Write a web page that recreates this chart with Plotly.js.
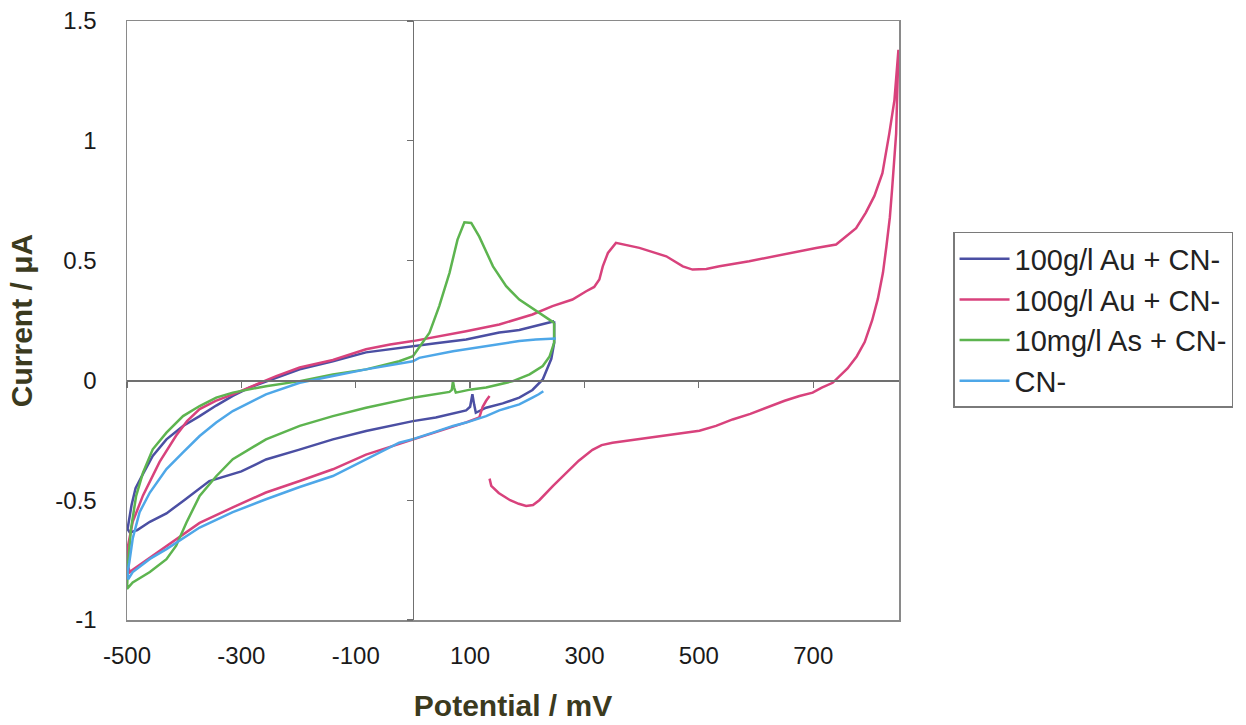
<!DOCTYPE html>
<html>
<head>
<meta charset="utf-8">
<script src="https://cdn.plot.ly/plotly-3.0.1.min.js"></script>
<style>html,body{margin:0;padding:0;background:#fff;}#chart{width:1246px;height:725px;}</style>
</head>
<body>
<div id="chart"></div>
<script>
// Series names (legend)
const seriesNames = ["100g/l Au + CN-", "100g/l Au + CN-", "10mg/l As + CN-", "CN-"];

// Series 1: 100g/l Au + CN- (dark blue)
const auBlueX = [247, 215, 186, 151, 93, 40, 0, -40, -82, -140, -198, -257, -286, -315, -344, -373, -402, -431, -455, -472, -485, -492, -497, -499, -495, -482, -460, -431, -400, -356, -300, -257, -200, -140, -82, -40, 0, 40, 64, 93, 100, 104, 107, 110, 128, 157, 186, 209, 227, 242, 247, 247];
const auBlueY = [0.247, 0.226, 0.21, 0.2, 0.171, 0.155, 0.143, 0.13, 0.117, 0.08, 0.046, -0.005, -0.03, -0.065, -0.105, -0.149, -0.19, -0.246, -0.315, -0.39, -0.45, -0.52, -0.58, -0.62, -0.635, -0.625, -0.59, -0.555, -0.5, -0.42, -0.38, -0.33, -0.29, -0.246, -0.211, -0.19, -0.17, -0.155, -0.142, -0.125, -0.11, -0.058, -0.1, -0.135, -0.114, -0.096, -0.072, -0.04, 0.004, 0.09, 0.157, 0.247];

// Series 2: 100g/l Au + CN- (pink)
const auPinkX = [134, 137, 150, 170, 185, 198, 210, 221, 245, 268, 290, 314, 330, 349, 380, 413, 460, 501, 530, 559, 590, 618, 650, 676, 699, 715, 734, 760, 776, 790, 803, 813, 822, 828, 834, 838, 842, 845, 849,
  842, 833, 821, 807, 792, 775, 752, 740, 705, 647, 588, 536, 513, 489, 472, 443, 396, 355, 341, 332, 326, 317, 303, 279, 244, 209, 151, 93, 34, 0, -40, -82, -140, -198, -239, -286, -315, -345, -373, -395, -414, -443, -472, -490, -499, -499, -495,
  -490, -460, -431, -400, -373, -315, -257, -198, -140, -82, 0, 50, 93, 116, 122, 128, 134];
const auPinkY = [-0.41, -0.44, -0.47, -0.5, -0.515, -0.524, -0.52, -0.5, -0.44, -0.385, -0.335, -0.29, -0.27, -0.26, -0.25, -0.24, -0.225, -0.21, -0.19, -0.163, -0.14, -0.113, -0.085, -0.065, -0.051, -0.03, -0.01, 0.05, 0.1, 0.16, 0.25, 0.34, 0.45, 0.56, 0.68, 0.8, 0.92, 1.03, 1.38,
  1.17, 1.03, 0.865, 0.77, 0.7, 0.635, 0.59, 0.567, 0.553, 0.525, 0.497, 0.476, 0.465, 0.4625, 0.476, 0.518, 0.553, 0.574, 0.532, 0.476, 0.421, 0.39, 0.372, 0.3375, 0.31, 0.275, 0.233, 0.205, 0.179, 0.164, 0.15, 0.13, 0.085, 0.054, 0.018, -0.03, -0.058, -0.085, -0.12, -0.17, -0.23, -0.34, -0.48, -0.59, -0.7, -0.77, -0.8,
  -0.79, -0.74, -0.69, -0.64, -0.595, -0.53, -0.468, -0.42, -0.371, -0.31, -0.246, -0.21, -0.175, -0.155, -0.11, -0.085, -0.065];

// Series 3: 10mg/l As + CN- (green)
const asGreenX = [247, 221, 186, 163, 140, 116, 102, 90, 78, 64, 46, 29, 17, 0, -24, -82, -140, -198, -257, -315, -344, -373, -402, -431, -455, -472, -484, -493, -498, -500,
  -490, -460, -431, -414, -396, -373, -344, -315, -257, -198, -140, -82, 0, 41, 64, 68, 70, 72, 75, 102, 128, 175, 204, 227, 239, 247, 247];
const asGreenY = [0.24, 0.282, 0.3375, 0.393, 0.476, 0.6, 0.657, 0.66, 0.5875, 0.449, 0.31, 0.199, 0.157, 0.101, 0.08, 0.046, 0.025, -0.003, -0.024, -0.051, -0.072, -0.107, -0.149, -0.218, -0.2875, -0.385, -0.482, -0.62, -0.76, -0.87,
  -0.843, -0.8, -0.746, -0.69, -0.593, -0.482, -0.4, -0.329, -0.246, -0.19, -0.149, -0.114, -0.072, -0.058, -0.048, -0.04, -0.003, -0.03, -0.051, -0.0375, -0.03, -0.003, 0.025, 0.06, 0.1, 0.158, 0.24];

// Series 4: CN- (light blue)
const cnX = [228, 220, 209, 186, 151, 128, 93, 70, 35, 0, -24, -82, -140, -198, -257, -315, -373, -431, -460, -490, -498,
  -499, -496, -490, -478, -460, -431, -402, -373, -344, -315, -257, -198, -140, -82, 0, 11, 70, 128, 186, 215, 250];
const cnY = [-0.045, -0.058, -0.072, -0.1, -0.125, -0.149, -0.176, -0.19, -0.218, -0.245, -0.26, -0.33, -0.399, -0.445, -0.496, -0.55, -0.614, -0.704, -0.745, -0.8, -0.83,
  -0.8, -0.76, -0.66, -0.55, -0.468, -0.37, -0.3, -0.232, -0.176, -0.128, -0.058, -0.01, 0.018, 0.046, 0.08, 0.094, 0.122, 0.143, 0.164, 0.171, 0.175];

// Axis ticks
const xTickVals = [-500, -300, -100, 100, 300, 500, 700];
const xTickText = ["-500", "-300", "-100", "100", "300", "500", "700"];
const yTickVals = [-1, -0.5, 0, 0.5, 1, 1.5];
const yTickText = ["-1", "-0.5", "0", "0.5", "1", "1.5"];
const xRange = [-500, 850];
const yRange = [-1, 1.5];

const colors = ["#4b4fa3", "#d8427c", "#5db44f", "#4ea7e8"];
const font = "Liberation Sans, Arial, sans-serif";

function tr(x, y, i) {
  return {x: x, y: y, type: "scatter", mode: "lines", name: seriesNames[i],
          line: {color: colors[i], width: 2.5}, xaxis: "x", yaxis: "y"};
}

const data = [
  tr(auBlueX, auBlueY, 0),
  tr(auPinkX, auPinkY, 1),
  tr(asGreenX, asGreenY, 2),
  tr(cnX, cnY, 3),
  {x: [], y: [], type: "scatter", mode: "lines", xaxis: "x2", yaxis: "y2", showlegend: false, hoverinfo: "skip"}
];

const layout = {
  width: 1246, height: 725,
  margin: {l: 127, r: 347, t: 21, b: 105},
  paper_bgcolor: "#ffffff", plot_bgcolor: "#ffffff",
  font: {family: font, color: "#1a1a1a"},
  showlegend: true,
  legend: {
    x: 1.07, y: 0.648, xanchor: "left", yanchor: "top",
    bordercolor: "#7a7a7a", borderwidth: 1.5, bgcolor: "#ffffff",
    font: {family: font, size: 29, color: "#222"},
    itemwidth: 50, tracegroupgap: 0
  },
  xaxis: {
    range: xRange, tickmode: "array", tickvals: xTickVals, ticktext: xTickText,
    showline: true, mirror: true, linecolor: "#8a8a8a", linewidth: 1.5,
    showgrid: false, zeroline: false, ticks: "",
    ticklabelstandoff: 14,
    tickfont: {family: font, size: 24, color: "#1a1a1a"},
    title: {text: "Potential / mV", standoff: 26,
            font: {family: font, size: 30, weight: "bold", color: "#3b3a1e"}}
  },
  yaxis: {
    range: yRange, tickmode: "array", tickvals: yTickVals, ticktext: yTickText,
    showline: true, mirror: true, linecolor: "#8a8a8a", linewidth: 1.5,
    showgrid: false, zeroline: false, ticks: "",
    ticklabelstandoff: 24,
    tickfont: {family: font, size: 24, color: "#1a1a1a"},
    title: {text: "Current / μA", standoff: 14,
            font: {family: font, size: 30, weight: "bold", color: "#3b3a1e"}}
  },
  xaxis2: {
    overlaying: "x", anchor: "free", position: 0.4,
    range: xRange, tickmode: "array", tickvals: xTickVals,
    showline: true, linecolor: "#707070", linewidth: 1.3,
    ticks: "outside", ticklen: 6, tickwidth: 1.3, tickcolor: "#707070",
    showticklabels: false, showgrid: false, zeroline: false
  },
  yaxis2: {
    overlaying: "y", anchor: "free", position: 500 / 1350, side: "left",
    range: yRange, tickmode: "array", tickvals: yTickVals,
    showline: true, linecolor: "#707070", linewidth: 1.3,
    ticks: "outside", ticklen: 6, tickwidth: 1.3, tickcolor: "#707070",
    showticklabels: false, showgrid: false, zeroline: false
  }
};

Plotly.newPlot("chart", data, layout, {displayModeBar: false, staticPlot: true});
</script>
</body>
</html>
